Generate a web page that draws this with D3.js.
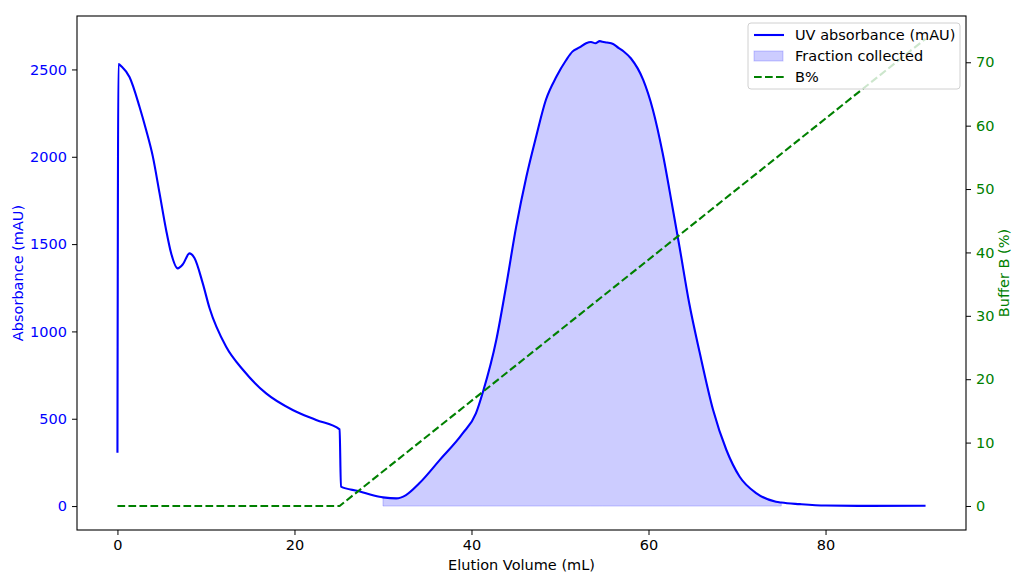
<!DOCTYPE html>
<html>
<head>
    <meta charset="utf-8">
    <style>
        html, body { padding: 0; margin: 0; background: #fff; }
        svg { display: block; font-family: "DejaVu Sans", sans-serif; }
    </style>
</head>
<body>
    <div id="chart"></div>
    <script src="https://cdn.jsdelivr.net/npm/d3@7"></script>
    <script>
        // UV trace
        const volume = [0, 0.11, 0.5, 1.36, 2.5, 3.24, 4.0, 4.75, 5.5, 6.06, 6.8, 7.4, 8.14, 8.7, 9.64,
            10.4, 12.28, 14.2, 16.8, 19.8, 22.45, 25.1, 25.25, 27.2, 29.6, 30, 31.5, 32.6, 34.1, 36.4,
            39.0, 40.5, 41.3, 42.8, 43.9, 45.05, 46.2, 47.3, 48.4, 49.6, 50.7, 51.4, 52.2, 52.95, 53.5,
            54.0, 54.5, 54.8, 55.3, 56.0, 56.6, 57.2, 58.0, 59.4, 60.5, 61.6, 62.7, 63.5, 64.6, 65.8,
            67.3, 68.8, 70.3, 72.2, 74.4, 75, 77.1, 80, 85, 91.3];
        const uv = [305, 2531, 2515, 2457, 2285, 2153, 2001, 1793, 1581, 1449, 1361, 1385, 1447, 1420, 1275,
            1134, 912, 779, 645, 550, 493, 439, 111, 86, 53, 50, 44, 63, 130, 263,
            416, 531, 655, 951, 1256, 1600, 1886, 2115, 2325, 2459, 2554, 2602, 2626, 2650, 2657,
            2650, 2662, 2658, 2654, 2646, 2624, 2603, 2564, 2440, 2268, 2020, 1714, 1485, 1161, 875,
            550, 321, 168, 73, 25, 20, 11, 3, 1, 2];

        // buffer B gradient
        const bVolume = [0, 25.1, 91.3];
        const bPercent = [0, 0, 73.7];

        const fraction = [30, 75];

        const xTicks = [0, 20, 40, 60, 80];
        const uvTicks = [0, 500, 1000, 1500, 2000, 2500];
        const bTicks = [0, 10, 20, 30, 40, 50, 60, 70];

        const width = 1012, height = 574;
        const m = { left: 77, right: 966, top: 16, bottom: 530 };

        const svg = d3.select('#chart').append('svg')
            .attr('width', width)
            .attr('height', height);

        const x = d3.scaleLinear().domain([-4.57, 95.87]).range([m.left, m.right]);
        const yL = d3.scaleLinear().domain([-137, 2806]).range([m.bottom, m.top]);
        const yR = d3.scaleLinear().domain([-3.79, 77.3]).range([m.bottom, m.top]);

        const uvData = volume.map((v, i) => ({ v, a: uv[i] }));
        const bData = bVolume.map((v, i) => ({ v, b: bPercent[i] }));
        const fracData = uvData.filter(d => d.v >= fraction[0] && d.v <= fraction[1]);

        const plot = svg.append('g');

        // fraction collected
        plot.append('path')
            .datum(fracData)
            .attr('d', d3.area().x(d => x(d.v)).y0(yL(0)).y1(d => yL(d.a)).curve(d3.curveMonotoneX))
            .attr('fill', 'rgba(0,0,255,0.2)')
            .attr('stroke', 'rgba(0,0,255,0.2)')
            .attr('stroke-width', 1);

        plot.append('path')
            .datum(uvData)
            .attr('d', d3.line().x(d => x(d.v)).y(d => yL(d.a)).curve(d3.curveMonotoneX))
            .attr('fill', 'none')
            .attr('stroke', 'blue')
            .attr('stroke-width', 2.1)
            .attr('stroke-linejoin', 'round');

        plot.append('path')
            .datum(bData)
            .attr('d', d3.line().x(d => x(d.v)).y(d => yR(d.b)))
            .attr('fill', 'none')
            .attr('stroke', 'green')
            .attr('stroke-width', 2.1)
            .attr('stroke-dasharray', '7.7,3.3');

        // axes
        const fs = '14.5px';
        function style(g, color) {
            g.select('.domain').remove();
            g.selectAll('.tick line').attr('stroke', '#000').attr('stroke-width', 1);
            g.selectAll('.tick text').attr('fill', color).style('font-size', fs)
                .style('font-family', '"DejaVu Sans", sans-serif');
        }

        svg.append('g')
            .attr('transform', `translate(0,${m.bottom})`)
            .call(d3.axisBottom(x).tickValues(xTicks).tickFormat(d3.format('d')).tickSize(5).tickPadding(5))
            .call(g => style(g, '#000'));

        svg.append('g')
            .attr('transform', `translate(${m.left},0)`)
            .call(d3.axisLeft(yL).tickValues(uvTicks).tickFormat(d3.format('d')).tickSize(5).tickPadding(5))
            .call(g => style(g, 'blue'));

        svg.append('g')
            .attr('transform', `translate(${m.right},0)`)
            .call(d3.axisRight(yR).tickValues(bTicks).tickFormat(d3.format('d')).tickSize(5).tickPadding(5))
            .call(g => style(g, 'green'));

        svg.append('rect')
            .attr('x', m.left).attr('y', m.top)
            .attr('width', m.right - m.left).attr('height', m.bottom - m.top)
            .attr('fill', 'none').attr('stroke', '#000').attr('stroke-width', 1.1);

        // axis labels
        svg.append('text')
            .attr('x', (m.left + m.right) / 2).attr('y', 570)
            .attr('text-anchor', 'middle').style('font-size', fs)
            .text('Elution Volume (mL)');

        svg.append('text')
            .attr('transform', `translate(23,${(m.top + m.bottom) / 2}) rotate(-90)`)
            .attr('text-anchor', 'middle').attr('fill', 'blue').style('font-size', fs)
            .text('Absorbance (mAU)');

        svg.append('text')
            .attr('transform', `translate(1009,${(m.top + m.bottom) / 2}) rotate(-90)`)
            .attr('text-anchor', 'middle').attr('fill', 'green').style('font-size', fs)
            .text('Buffer B (%)');

        // legend
        const lg = svg.append('g').attr('transform', 'translate(748,23)');
        lg.append('rect')
            .attr('width', 212).attr('height', 66).attr('rx', 3)
            .attr('fill', 'rgba(255,255,255,0.8)').attr('stroke', '#d0d0d0');
        const items = [
            { label: 'UV absorbance (mAU)', type: 'line', color: 'blue' },
            { label: 'Fraction collected', type: 'patch' },
            { label: 'B%', type: 'dash', color: 'green' }
        ];
        items.forEach((it, i) => {
            const cy = 12 + i * 21;
            if (it.type === 'patch') {
                lg.append('rect').attr('x', 6).attr('y', cy - 5).attr('width', 29).attr('height', 10)
                    .attr('fill', 'rgba(0,0,255,0.2)').attr('stroke', 'rgba(0,0,255,0.2)');
            } else {
                lg.append('line').attr('x1', 6).attr('x2', 36).attr('y1', cy).attr('y2', cy)
                    .attr('stroke', it.color).attr('stroke-width', 2.1)
                    .attr('stroke-dasharray', it.type === 'dash' ? '7.7,3.3' : null);
            }
            lg.append('text').attr('x', 47).attr('y', cy).attr('dy', '0.35em')
                .style('font-size', fs).text(it.label);
        });
    </script>
</body>
</html>
